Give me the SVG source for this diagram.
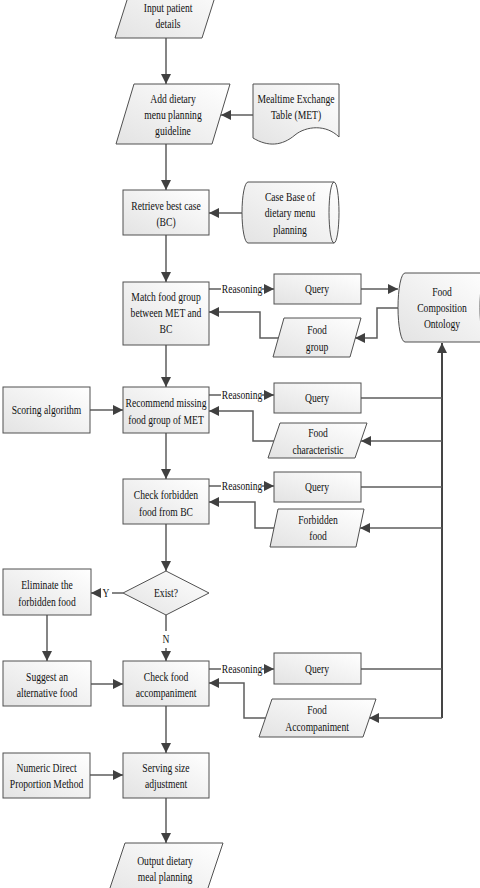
<svg xmlns="http://www.w3.org/2000/svg" width="480" height="888" viewBox="0 0 480 888">
<defs>
<linearGradient id="g" x1="0" y1="1" x2="1" y2="0">
<stop offset="0" stop-color="#e3e3e3"/>
<stop offset="1" stop-color="#ffffff"/>
</linearGradient>
<marker id="a" markerUnits="userSpaceOnUse" markerWidth="11" markerHeight="10" refX="10" refY="5" orient="auto">
<path d="M0,0 L10,5 L0,10 Z" fill="#404040"/>
</marker>
</defs>
<style>
.s{fill:url(#g);stroke:#505050;stroke-width:1}
.e{fill:none;stroke:#505050;stroke-width:1}
text{font-family:"Liberation Serif","Times New Roman",serif;font-size:13px;fill:#111;text-anchor:middle;transform-box:fill-box;transform-origin:center;transform:scaleX(0.74)}
.c{fill:none;stroke:#5c5c5c;stroke-width:1.5}
.t{fill:none;stroke:#454545;stroke-width:2}
.ar{marker-end:url(#a)}
</style>

<g id="connectors">
<path class="c ar" d="M166,38 V84"/>
<path class="c ar" d="M166,144 V190"/>
<path class="c ar" d="M166,235 V282"/>
<path class="c ar" d="M166,345 V387"/>
<path class="c ar" d="M166,433 V479"/>
<path class="c ar" d="M166,524 V571"/>
<path class="c" d="M166,615 V631"/>
<text x="166" y="643">N</text>
<path class="c ar" d="M166,648 V661"/>
<path class="c ar" d="M166,706 V753"/>
<path class="c ar" d="M166,798 V843"/>
<path class="c ar" d="M253,115 H221"/>
<path class="c ar" d="M242,213 H209"/>
<path class="c ar" d="M90,410 H123"/>
<path class="c" d="M123,593 H112"/>
<text x="106" y="597">Y</text>
<path class="c ar" d="M100,593 H91"/>
<path class="c ar" d="M47,615 V661"/>
<path class="c ar" d="M91,684 H123"/>
<path class="c ar" d="M90,775 H123"/>

<path class="c" d="M209,289 H221"/>
<text x="242" y="293">Reasoning</text>
<path class="c ar" d="M262,289 H274"/>
<path class="c" d="M209,395 H221"/>
<text x="242" y="399">Reasoning</text>
<path class="c ar" d="M262,395 H274"/>
<path class="c" d="M209,486 H221"/>
<text x="242" y="490">Reasoning</text>
<path class="c ar" d="M262,486 H274"/>
<path class="c" d="M209,669 H221"/>
<text x="242" y="673">Reasoning</text>
<path class="c ar" d="M262,669 H274"/>

<path class="c ar" d="M361,289 H398"/>
<path class="c ar" d="M398,308 H377 V338 H355"/>
<path class="c ar" d="M278,338 H260 V312 H209"/>
<path class="t ar" d="M442,718 V343"/>
<path class="c" d="M361,398 H442"/>
<path class="c ar" d="M442,441 H361"/>
<path class="c ar" d="M274,441 H253 V411 H209"/>
<path class="c" d="M361,487 H442"/>
<path class="c ar" d="M442,528 H360"/>
<path class="c ar" d="M274,528 H255 V502 H209"/>
<path class="c" d="M361,669 H442"/>
<path class="c ar" d="M442,718 H369"/>
<path class="c ar" d="M266,718 H244 V683 H209"/>
</g>

<g id="input">
<path class="s" d="M134,-22 H221 L202,38 H115 Z"/>
<text x="168" y="12">Input patient</text>
<text x="168" y="28">details</text>
</g>
<g id="add-guideline">
<path class="s" d="M134,84 H230 L212,144 H116 Z"/>
<text x="173" y="103">Add dietary</text>
<text x="173" y="119">menu planning</text>
<text x="173" y="135">guideline</text>
</g>
<g id="met">
<path class="s" d="M253,84 H339 V137 C326,124 306,126 295,135 C282,146 268,147 253,138 Z"/>
<text x="296" y="103">Mealtime Exchange</text>
<text x="296" y="119">Table (MET)</text>
</g>
<g id="retrieve">
<rect class="s" x="123" y="190" width="86" height="45"/>
<text x="166" y="210">Retrieve best case</text>
<text x="166" y="226">(BC)</text>
</g>
<g id="case-base">
<path class="s" d="M248,182 H334 A5,30.5 0 0 1 334,243 H248 A6,30.5 0 0 1 248,182 Z"/>
<path class="e" d="M334,182 A5,30.5 0 0 0 334,243"/>
<text x="290" y="201">Case Base of</text>
<text x="290" y="217">dietary menu</text>
<text x="290" y="234">planning</text>
</g>
<g id="match">
<rect class="s" x="123" y="282" width="86" height="63"/>
<text x="166" y="301">Match food group</text>
<text x="166" y="317">between MET and</text>
<text x="166" y="333">BC</text>
</g>
<g id="query1">
<rect class="s" x="274" y="274" width="87" height="30"/>
<text x="317" y="293">Query</text>
</g>
<g id="food-group">
<path class="s" d="M284,318 H361 L350,357 H273 Z"/>
<text x="317" y="334">Food</text>
<text x="317" y="351">group</text>
</g>
<g id="ontology">
<path class="s" d="M405,273 H486 A6,34.5 0 0 1 486,342 H405 A7,34.5 0 0 1 405,273 Z"/>
<path class="e" d="M486,273 A6,34.5 0 0 0 486,342"/>
<text x="442" y="296">Food</text>
<text x="442" y="312">Composition</text>
<text x="442" y="328">Ontology</text>
</g>
<g id="scoring">
<rect class="s" x="3" y="387" width="87" height="46"/>
<text x="46.5" y="414">Scoring algorithm</text>
</g>
<g id="recommend">
<rect class="s" x="123" y="387" width="86" height="46"/>
<text x="166" y="407">Recommend missing</text>
<text x="166" y="424">food group of MET</text>
</g>
<g id="query2">
<rect class="s" x="274" y="383" width="87" height="30"/>
<text x="317" y="402">Query</text>
</g>
<g id="food-characteristic">
<path class="s" d="M280,423 H367 L355,458 H268 Z"/>
<text x="318" y="437">Food</text>
<text x="318" y="454">characteristic</text>
</g>
<g id="check-forbidden">
<rect class="s" x="123" y="479" width="86" height="45"/>
<text x="166" y="499">Check forbidden</text>
<text x="166" y="516">food from BC</text>
</g>
<g id="query3">
<rect class="s" x="274" y="472" width="87" height="30"/>
<text x="317" y="491">Query</text>
</g>
<g id="forbidden-food">
<path class="s" d="M278,509 H364 L356,547 H270 Z"/>
<text x="318" y="524">Forbidden</text>
<text x="318" y="540">food</text>
</g>
<g id="exist">
<path class="s" d="M166,571 L209,593 L166,615 L123,593 Z"/>
<text x="166" y="597">Exist?</text>
</g>
<g id="eliminate">
<rect class="s" x="3" y="569" width="88" height="46"/>
<text x="47" y="589">Eliminate the</text>
<text x="47" y="606">forbidden food</text>
</g>
<g id="suggest">
<rect class="s" x="3" y="661" width="88" height="45"/>
<text x="47" y="681">Suggest an</text>
<text x="47" y="697">alternative food</text>
</g>
<g id="check-accompaniment">
<rect class="s" x="123" y="661" width="86" height="45"/>
<text x="166" y="681">Check food</text>
<text x="166" y="697">accompaniment</text>
</g>
<g id="query4">
<rect class="s" x="274" y="653" width="87" height="31"/>
<text x="317" y="673">Query</text>
</g>
<g id="food-accompaniment">
<path class="s" d="M272,699 H376 L363,737 H259 Z"/>
<text x="317" y="714">Food</text>
<text x="317" y="731">Accompaniment</text>
</g>
<g id="numeric">
<rect class="s" x="3" y="753" width="87" height="45"/>
<text x="46.5" y="772">Numeric Direct</text>
<text x="46.5" y="788">Proportion Method</text>
</g>
<g id="serving">
<rect class="s" x="123" y="753" width="86" height="45"/>
<text x="166" y="772">Serving size</text>
<text x="166" y="788">adjustment</text>
</g>
<g id="output">
<path class="s" d="M125,843 H223 L203,903 H105 Z"/>
<text x="165" y="865">Output dietary</text>
<text x="165" y="881">meal planning</text>
</g>
</svg>
